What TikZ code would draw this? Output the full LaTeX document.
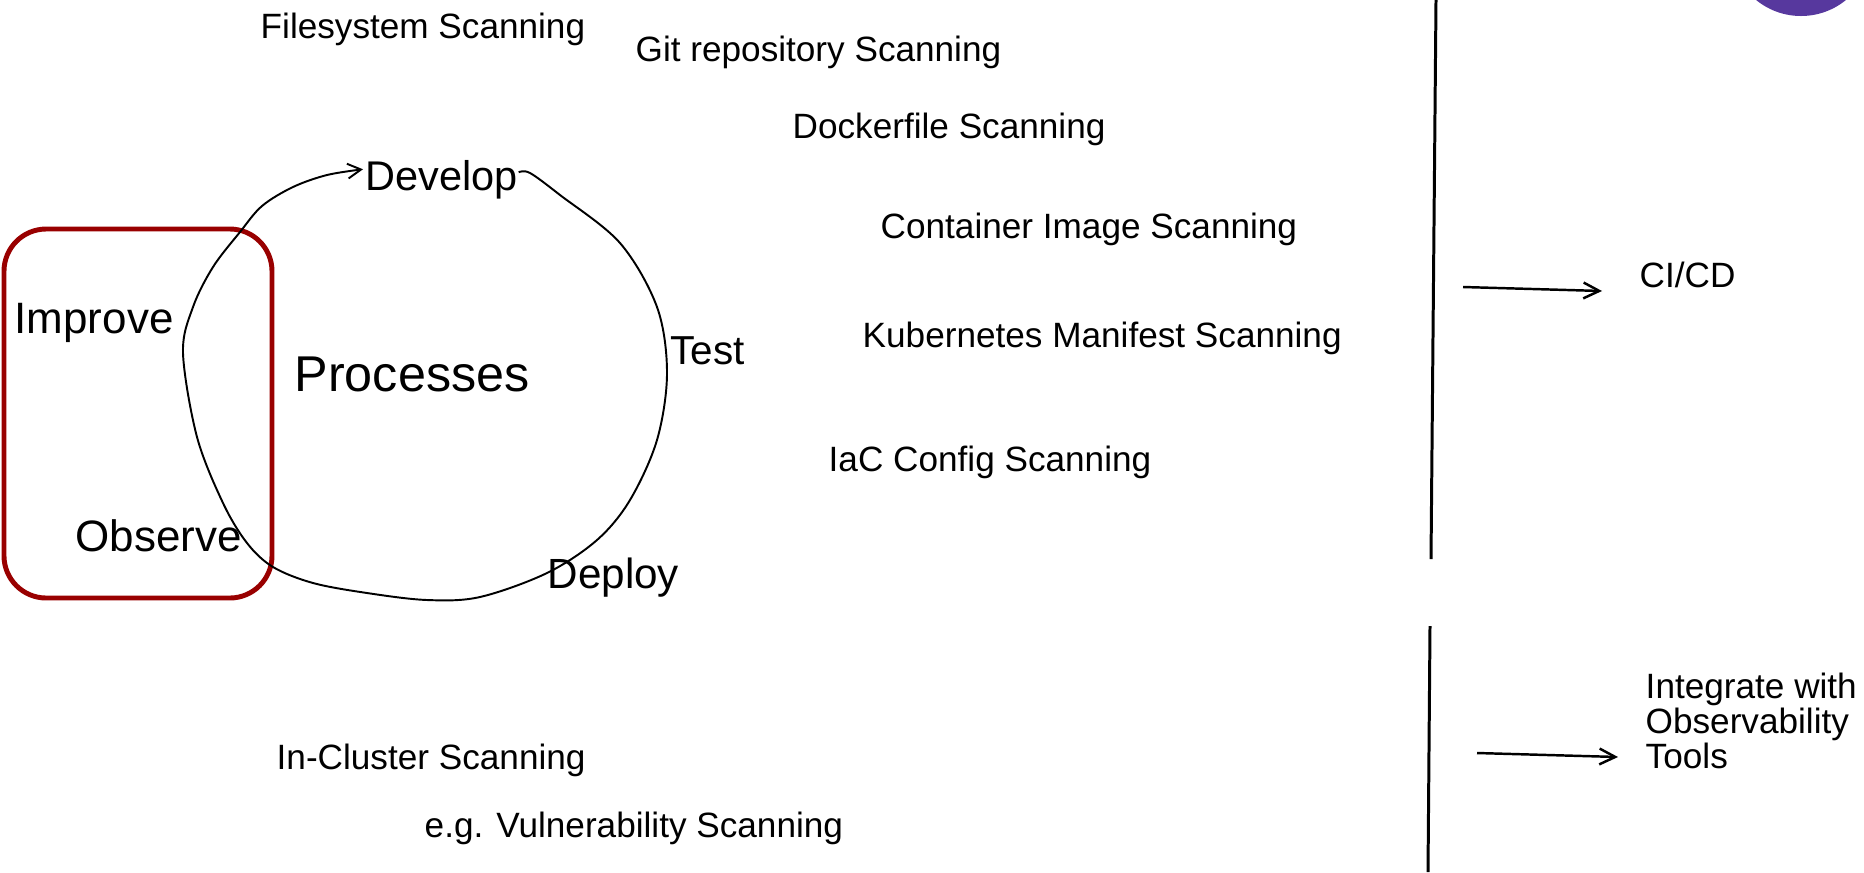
\documentclass[tikz,border=0pt]{standalone}
\usepackage{fontspec}
\setmainfont{Liberation Sans}
\usetikzlibrary{arrows.meta,calc}
\definecolor{boxred}{RGB}{153,0,0}
\definecolor{dotpurple}{RGB}{87,56,158}
\begin{document}
\begin{tikzpicture}[x=0.01cm,y=-0.01cm,
  lbl/.style={inner sep=0pt, anchor=base west, font=\fontsize{10}{10}\selectfont},
  big/.style={inner sep=0pt, anchor=base west, font=\fontsize{12}{12}\selectfont},
  barb/.style={-{Straight Barb[length=4.5pt,width=4.5pt]}},
  loopline/.style={line width=0.55pt, -{Straight Barb[length=3.8pt,width=4.2pt]}},
  divider/.style={line width=0.85pt},
  pointer/.style={line width=0.7pt, barb},
  redbox/.style={draw=boxred, line width=1.4pt, rounded corners=12pt}
]
\useasboundingbox (0,0) rectangle (1864,872);
\fill[white] (0,0) rectangle (1864,872);
\clip (0,0) rectangle (1864,872);
\fill[dotpurple] (1801,-55) circle (71);

% red box
\draw[redbox] (4,229) rectangle (272,598);

% labels
\node[lbl] (fs) at (260,38) {Filesystem Scanning};
\node[lbl] (git) at (635,61) {Git repository Scanning};
\node[lbl] (dock) at (792,138) {Dockerfile Scanning};
\node[lbl] (cont) at (880,238) {Container Image Scanning};
\node[lbl] (kube) at (862,347) {Kubernetes Manifest Scanning};
\node[lbl] (iac) at (828,471) {IaC Config Scanning};
\node[lbl] (incl) at (276,769) {In-Cluster Scanning};
\node[lbl] (vuln) at (424,837) {e.g. Vulnerability Scanning};
\node[lbl] (cicd) at (1639,287) {CI/CD};
\node[lbl, anchor=north west, align=left] (obs) at (1645,672) {Integrate with\\Observability\\Tools};

\node[big, font=\fontsize{11.8}{12}\selectfont] (dev) at (365,190) {Develop};
\node[big, font=\fontsize{11.5}{12}\selectfont] (test) at (670,364) {Test};
\node[big] (deploy) at (547,588) {Deploy};
\node[big, font=\fontsize{12.5}{13}\selectfont] (improve) at (14,333) {Improve};
\node[big, font=\fontsize{12.5}{13}\selectfont] (observe) at (75,551) {Observe};
\node[big, font=\fontsize{14.3}{15}\selectfont] (proc) at (294,391) {Processes};

% loop
\coordinate (lstart) at ($(dev.east)+(0,-7)$);
\coordinate (lend) at ($(dev.west)+(-2,-10)$);
\draw[loopline] plot[smooth, tension=0.55] coordinates {(lstart) (530,173) (560,195) (620,243) (657,307) (667,373) (657,440) (630,500) (597,540) (547,573) (480,597) (427,600) (367,593) (313,583) (273,567) (247,543) (223,503) (197,437) (183,353) (193,307) (213,267) (240,232) (262,206) (293,187) (327,175) (lend)};

% dividers
\coordinate (v1t) at (1436,0);
\coordinate (v1b) at (1431,559);
\coordinate (v2t) at (1430,626);
\coordinate (v2b) at (1428,872);
\draw[divider] (v1t) -- (v1b);
\draw[divider] (v2t) -- (v2b);

% arrows
\coordinate (a1s) at (1463,287);
\coordinate (a1e) at (1602,291);
\coordinate (a2s) at (1477,753);
\coordinate (a2e) at (1618,757);
\draw[pointer] (a1s) -- (a1e);
\draw[pointer] (a2s) -- (a2e);
\end{tikzpicture}
\end{document}
